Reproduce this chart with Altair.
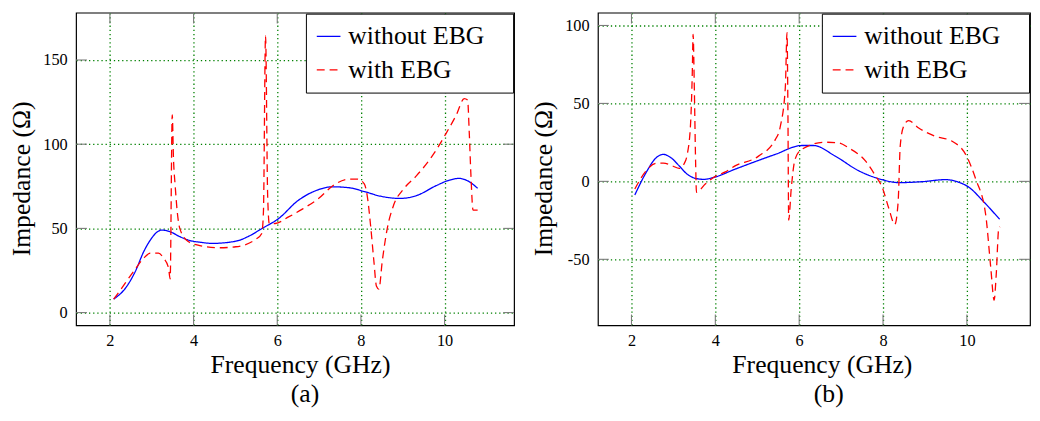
import altair as alt
import pandas as pd

FONT = "Liberation Serif"

# ---------------- data ----------------
series_names = ["without EBG", "with EBG"]
x_ticks = [2, 4, 6, 8, 10]
y_ticks_a = [0, 50, 100, 150]
y_ticks_b = [-50, 0, 50, 100]

# panel (a)
freq_a_without = [2.09, 2.38, 2.61, 2.81, 2.97, 3.12, 3.24, 3.44, 3.67, 3.91, 4.15, 4.45,
                  5.01, 5.33, 5.64, 6.03, 6.5, 6.9, 7.32, 7.7, 8.08, 8.47, 8.94, 9.33,
                  9.8, 10.12, 10.35, 10.59, 10.79]
imp_a_without = [8.0, 14.8, 24.6, 36.3, 43.2, 47.7, 49.0, 48.0, 45.1, 42.8, 41.8, 41.1,
                 42.4, 45.5, 50.0, 55.8, 66.6, 72.2, 74.7, 74.2, 71.9, 69.1, 67.8, 69.5,
                 75.4, 78.7, 79.7, 77.7, 73.8]

freq_a_with = [2.09, 2.18, 2.57, 2.81, 2.97, 3.16, 3.28, 3.40, 3.44, 3.49, 3.52, 3.56,
               3.61, 3.67, 3.87, 4.15, 4.61, 5.01, 5.49, 5.63, 5.67, 5.72, 5.77, 5.81,
               5.95, 6.27, 6.61, 7.0, 7.32, 7.72, 7.92, 8.08, 8.15, 8.23, 8.31, 8.37,
               8.43, 8.51, 8.63, 8.78, 9.02, 9.33, 9.73, 10.04, 10.28, 10.47, 10.55,
               10.59, 10.63, 10.68, 10.79]
imp_a_with = [8.0, 11.0, 24.6, 32.4, 35.3, 35.3, 32.4, 26.6, 20.0, 117.4, 91.0, 75.4,
              59.8, 50.0, 42.2, 39.8, 38.5, 39.1, 43.6, 47.0, 60.0, 164.3, 70.0, 52.8,
              52.9, 56.8, 61.6, 68.0, 75.2, 79.3, 79.3, 76.4, 69.5, 52.0, 30.5, 15.8,
              13.9, 30.5, 50.0, 63.7, 73.4, 81.3, 93.9, 106.6, 117.4, 127.1, 126.2,
              106.6, 81.3, 60.8, 60.8]

# panel (b)
freq_b_without = [2.08, 2.35, 2.59, 2.76, 2.94, 3.14, 3.33, 3.53, 3.72, 3.96, 4.47, 5.43,
                  6.06, 6.34, 6.86, 7.42, 7.98, 8.37, 8.93, 9.49, 9.81, 10.05, 10.37, 10.78]
imp_b_without = [-8.7, 5.7, 15.2, 17.3, 15.2, 9.9, 4.6, 1.9, 1.3, 2.5, 7.8, 17.3,
                 23.0, 23.0, 16.2, 6.8, 1.1, -0.8, -0.2, 1.1, -0.6, -3.8, -12.2, -24.3]

freq_b_with = [2.08, 2.35, 2.59, 2.76, 2.98, 3.14, 3.25, 3.33, 3.41, 3.45, 3.47, 3.50,
               3.53, 3.55, 3.76, 4.0, 4.24, 4.47, 5.03, 5.43, 5.55, 5.67, 5.71, 5.73,
               5.75, 5.81, 5.90, 6.06, 6.62, 6.94, 7.18, 7.58, 7.82, 7.98, 8.14, 8.28,
               8.36, 8.41, 8.49, 8.61, 8.85, 9.25, 9.65, 9.97, 10.21, 10.45, 10.57,
               10.65, 10.70, 10.76, 10.79]
imp_b_with = [-4.9, 6.8, 11.6, 11.7, 9.9, 8.3, 11.0, 17.3, 37.3, 69.0, 94.3, 58.4,
              12.0, -7.0, -1.7, 3.2, 6.1, 9.9, 16.2, 26.8, 35.2, 60.5, 95.4, 50.0,
              -24.9, -4.9, 14.1, 20.5, 25.1, 24.7, 21.5, 13.1, 3.6, -3.8, -17.5, -27.6,
              -13.3, 22.6, 35.2, 39.0, 34.2, 28.9, 25.7, 17.3, 1.5, -21.7, -55.5,
              -76.2, -59.7, -30.2, -29.1]


def make_df(f_wo, z_wo, f_w, z_w):
    a = pd.DataFrame({"freq": f_wo, "imp": z_wo, "series": series_names[0]})
    b = pd.DataFrame({"freq": f_w, "imp": z_w, "series": series_names[1]})
    return pd.concat([a, b], ignore_index=True)


GRID = dict(grid=True, gridColor="#008000", gridDash=[1.3, 2.9], gridWidth=1.3,
            gridOpacity=1, domain=False, ticks=False,
            labelFont=FONT, labelFontSize=16.5, labelColor="black",
            titleFont=FONT, titleFontSize=26, titleFontWeight="normal",
            titleColor="black", labelOverlap=False)

TICK_LEN = 11
TICK_COLOR = "#7a7a7a"


def panel(df, y_ticks, x_dom, y_dom, width, height, label, title_dx):
    x_enc = alt.X("freq:Q",
                  scale=alt.Scale(domain=x_dom, nice=False, zero=False),
                  axis=alt.Axis(values=x_ticks, title="Frequency (GHz)",
                                labelPadding=7.5, titleX=227, titleY=47.7,
                                titleBaseline="alphabetic", labelFlush=False, **GRID))
    y_enc = alt.Y("imp:Q",
                  scale=alt.Scale(domain=y_dom, nice=False, zero=False),
                  axis=alt.Axis(values=y_ticks, title="Impedance (Ω)",
                                labelPadding=9, titleX=-55, titleY=168,
                                titleBaseline="middle",
                                labelExpr="toString(datum.value)", **GRID))
    leg = alt.Legend(orient="top-right", offset=1, symbolType="stroke",
                     symbolSize=576, symbolStrokeWidth=1.3,
                     labelFont=FONT, labelFontSize=26, labelColor="black",
                     labelLimit=400, labelOffset=7, rowPadding=8, padding=10,
                     strokeColor="black", fillColor="white", cornerRadius=0,
                     labelExpr="datum.label + '\u2800'")
    lines = alt.Chart(df).mark_line(interpolate="monotone", strokeWidth=1.3).encode(
        x=x_enc, y=y_enc,
        color=alt.Color("series:N", title=None,
                        scale=alt.Scale(domain=series_names, range=["#0000ff", "#ff0000"]),
                        legend=leg),
        strokeDash=alt.StrokeDash("series:N", title=None,
                                  scale=alt.Scale(domain=series_names, range=[[1, 0], [8, 5]]),
                                  legend=leg),
    )
    xt = pd.DataFrame({"freq": x_ticks})
    yt = pd.DataFrame({"imp": y_ticks})
    rule = dict(color=TICK_COLOR, strokeWidth=1.1)
    x_top = alt.Chart(xt).mark_rule(**rule).encode(x=x_enc, y=alt.value(0), y2=alt.value(TICK_LEN))
    x_bot = alt.Chart(xt).mark_rule(**rule).encode(x=x_enc, y=alt.value(height - TICK_LEN), y2=alt.value(height))
    y_left = alt.Chart(yt).mark_rule(**rule).encode(y=y_enc, x=alt.value(0), x2=alt.value(TICK_LEN))
    y_right = alt.Chart(yt).mark_rule(**rule).encode(y=y_enc, x=alt.value(width - TICK_LEN), x2=alt.value(width))
    return alt.layer(x_top, x_bot, y_left, y_right, lines).properties(
        width=width, height=height,
        title=alt.TitleParams(text=label, orient="bottom", anchor="middle", frame="group",
                              dx=title_dx, offset=4, font=FONT, fontSize=26,
                              fontWeight="normal", color="black"))


H = 317
left = panel(make_df(freq_a_without, imp_a_without, freq_a_with, imp_a_with),
             y_ticks_a, [1.191, 11.661], [-7.62, 178.1], 444, H, "(a)", 10)
right = panel(make_df(freq_b_without, imp_b_without, freq_b_with, imp_b_with),
              y_ticks_b, [1.2, 11.506], [-92.4, 108.2], 438, H, "(b)", 15)

chart = alt.hconcat(left, right, spacing=14).resolve_scale(
    x="independent", y="independent", color="independent", strokeDash="independent"
).resolve_legend(color="independent", strokeDash="independent").properties(
    padding={"left": 0, "top": 0, "right": 0, "bottom": 0}, background="white"
).configure_view(stroke="black", strokeWidth=1.2).configure_axis(
    labelFont=FONT, titleFont=FONT
).configure_legend(labelFont=FONT)

chart.save("out.html", embed_options={"renderer": "svg", "actions": False})
